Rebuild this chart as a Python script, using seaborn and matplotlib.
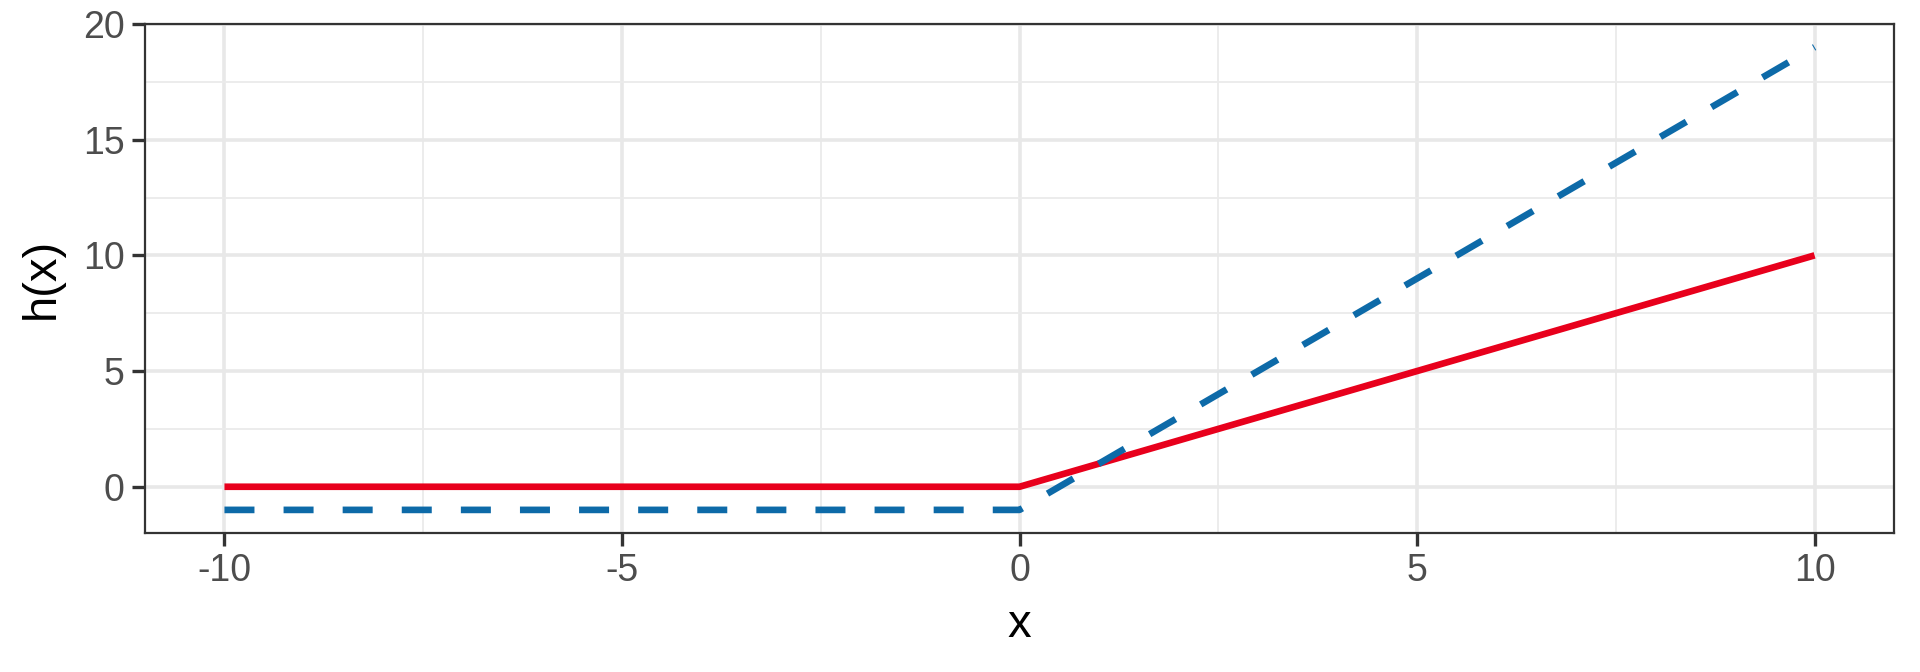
import matplotlib
matplotlib.use("Agg")
import matplotlib.pyplot as plt
import seaborn as sns
import pandas as pd
from matplotlib.ticker import MultipleLocator

# data: ReLU and a shifted/scaled variant
x_vals = [-10, 0, 10]
relu_vals = [0, 0, 10]
shifted_vals = [-1, -1, 19]

x_ticks = [-10, -5, 0, 5, 10]
x_tick_labels = ["-10", "-5", "0", "5", "10"]
y_ticks = [0, 5, 10, 15, 20]
y_tick_labels = ["0", "5", "10", "15", "20"]

red = "#E8001C"
blue = "#0D6AA8"

sns.set_theme(style="white")
plt.rcParams["font.family"] = ["Liberation Sans", "DejaVu Sans"]

df_relu = pd.DataFrame({"x": x_vals, "h": relu_vals})
df_shift = pd.DataFrame({"x": x_vals, "h": shifted_vals})

fig = plt.figure(figsize=(19.2, 6.72), dpi=100)
ax = fig.add_axes([0.0755, 0.2068, 0.911, 0.7575])

sns.lineplot(data=df_relu, x="x", y="h", ax=ax, color=red, linewidth=4.8,
             solid_capstyle="butt", zorder=3)
sns.lineplot(data=df_shift, x="x", y="h", ax=ax, color=blue, linewidth=4.8,
             linestyle=(0, (4.5, 4.365)), dash_capstyle="butt", zorder=4)

ax.set_xlim(-11, 11)
ax.set_ylim(-2, 20)
ax.set_xticks(x_ticks)
ax.set_xticklabels(x_tick_labels)
ax.set_yticks(y_ticks)
ax.set_yticklabels(y_tick_labels)
ax.xaxis.set_minor_locator(MultipleLocator(2.5))
ax.yaxis.set_minor_locator(MultipleLocator(2.5))

ax.grid(which="major", color="#E8E8E8", linewidth=2.6, zorder=0)
ax.grid(which="minor", color="#EBEBEB", linewidth=1.3, zorder=0)
ax.set_axisbelow(True)

ax.tick_params(which="major", length=9.5, width=2.4, color="#333333",
               labelsize=27, labelcolor="#4D4D4D", pad=5, direction="out",
               bottom=True, left=True)
ax.tick_params(which="minor", length=0)
for spine in ax.spines.values():
    spine.set_visible(True)
    spine.set_color("#333333")
    spine.set_linewidth(1.6)

ax.set_xlabel("x", fontsize=34, color="black", labelpad=10)
ax.set_ylabel("h(x)", fontsize=34, color="black", labelpad=14)

fig.savefig("out.png", dpi=100)
